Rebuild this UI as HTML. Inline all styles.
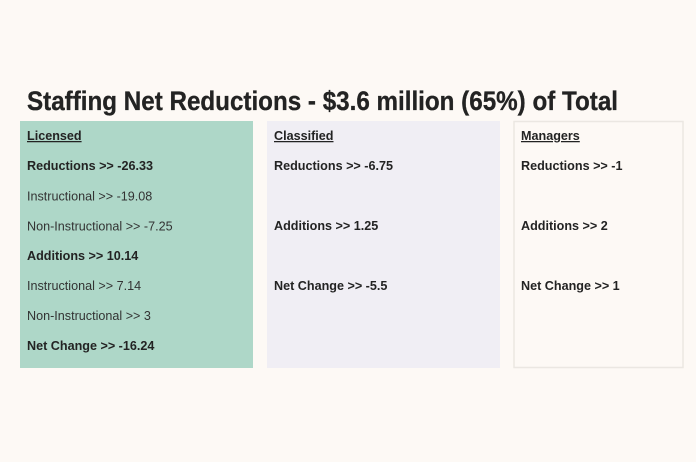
<!DOCTYPE html>
<html><head><meta charset="utf-8"><style>
html,body{margin:0;padding:0;background:#fdf9f5;}
svg{display:block;}
text{font-family:"Liberation Sans",Arial,sans-serif;fill:#232323;}
.b{font-weight:bold;}
.n{fill:#333;}
</style></head><body>
<svg width="696" height="462" viewBox="0 0 696 462" xmlns="http://www.w3.org/2000/svg">
<rect x="0" y="0" width="696" height="462" fill="#fdf9f5"/>
<text x="27" y="110" class="b" font-size="26.5" textLength="591" lengthAdjust="spacingAndGlyphs" fill="#1f211f" stroke="#1f211f" stroke-width="0.3">Staffing Net Reductions - $3.6 million (65%) of Total</text>
<rect x="20" y="121" width="233" height="247" fill="#aed7c8"/>
<rect x="267" y="121" width="233" height="247" fill="#f0eef4"/>
<rect x="514" y="121.5" width="169" height="246" fill="#fdf9f5" stroke="#ebe7e2" stroke-width="1.5"/>
<g font-size="12.6">
<text x="27" y="140" class="b" text-decoration="underline">Licensed</text>
<text x="27" y="170" class="b">Reductions &gt;&gt; -26.33</text>
<text x="27" y="200.5" class="n">Instructional &gt;&gt; -19.08</text>
<text x="27" y="230.5" class="n">Non-Instructional &gt;&gt; -7.25</text>
<text x="27" y="260" class="b">Additions &gt;&gt; 10.14</text>
<text x="27" y="290" class="n">Instructional &gt;&gt; 7.14</text>
<text x="27" y="320" class="n">Non-Instructional &gt;&gt; 3</text>
<text x="27" y="350" class="b">Net Change &gt;&gt; -16.24</text>

<text x="274" y="140" class="b" text-decoration="underline">Classified</text>
<text x="274" y="170" class="b">Reductions &gt;&gt; -6.75</text>
<text x="274" y="230" class="b">Additions &gt;&gt; 1.25</text>
<text x="274" y="290" class="b">Net Change &gt;&gt; -5.5</text>

<text x="521" y="140" class="b" text-decoration="underline">Managers</text>
<text x="521" y="170" class="b">Reductions &gt;&gt; -1</text>
<text x="521" y="230" class="b">Additions &gt;&gt; 2</text>
<text x="521" y="290" class="b">Net Change &gt;&gt; 1</text>
</g>
</svg>
</body></html>
